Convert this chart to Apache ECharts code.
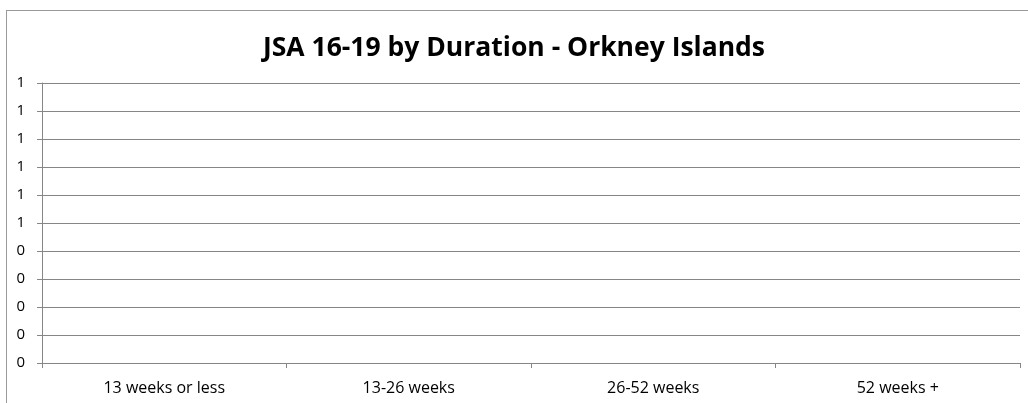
<!DOCTYPE html>
<html><head><meta charset="utf-8">
<script src="https://cdn.jsdelivr.net/npm/echarts@6/dist/echarts.min.js"></script>
<style>
html,body{margin:0;padding:0;background:#fff;overflow:hidden}
#frame{position:absolute;left:6px;top:10px;width:1040px;height:420px;border:1px solid #9a9a9a;box-sizing:border-box}
#chart{position:absolute;left:0;top:0;width:1028px;height:403px}
</style></head>
<body>
<div id="frame"></div>
<div id="chart"></div>
<script>
const titleText = 'JSA 16-19 by Duration - Orkney Islands';
const categories = ['13 weeks or less', '13-26 weeks', '26-52 weeks', '52 weeks +'];
const values = [0, 0, 0, 0];
const yMin = 0, yMax = 1, yStep = 0.1;

const chart = echarts.init(document.getElementById('chart'), null, {renderer: 'canvas'});
chart.setOption({
  backgroundColor: 'transparent',
  animation: false,
  title: {
    text: titleText, left: 'center', top: 30,
    textStyle: {fontFamily: 'Open Sans', fontWeight: 'bold', fontSize: 26.5, color: '#000'}
  },
  grid: {left: 42, right: 8, top: 83, bottom: 40, containLabel: false},
  xAxis: {
    type: 'category', data: categories, boundaryGap: true,
    axisLine: {lineStyle: {color: '#868686', width: 1}},
    axisTick: {show: true, length: 5, alignWithLabel: false, lineStyle: {color: '#868686'}},
    axisLabel: {color: '#000', fontFamily: 'Open Sans', fontSize: 16, margin: 17}
  },
  yAxis: {
    type: 'value', min: yMin, max: yMax, interval: yStep,
    axisLine: {show: true, lineStyle: {color: '#868686', width: 1}},
    axisTick: {show: true, length: 5, lineStyle: {color: '#868686'}},
    splitLine: {show: true, lineStyle: {color: '#868686', width: 1}},
    axisLabel: {color: '#000', fontFamily: 'Open Sans', fontSize: 15, margin: 17,
      formatter: v => String(Math.round(v + 1e-9))}
  },
  series: [{type: 'bar', data: values, itemStyle: {color: '#4f81bd'}, barWidth: '50%'}]
});
</script>
</body></html>
